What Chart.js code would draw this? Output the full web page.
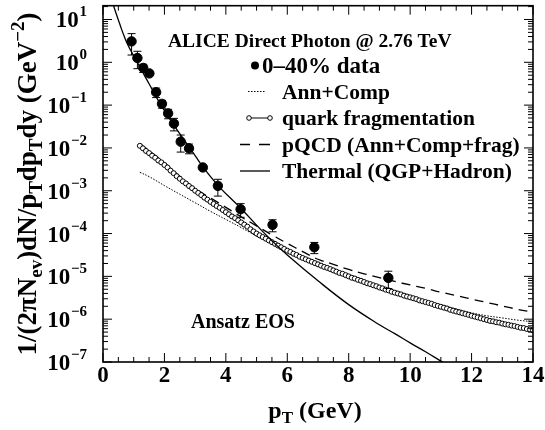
<!DOCTYPE html>
<html>
<head>
<meta charset="utf-8">
<script src="https://cdn.jsdelivr.net/npm/chart.js@4.4.1/dist/chart.umd.min.js"></script>
<style>
  html, body { margin: 0; padding: 0; background: #fff; }
  canvas { display: block; }
</style>
</head>
<body>
<canvas id="c" width="545" height="430"></canvas>
<script>
// ALICE 0-40% direct photons
const dataPt    = [0.93, 1.12, 1.31, 1.51, 1.73, 1.92, 2.12, 2.31, 2.53, 2.80, 3.25, 3.74, 4.48, 5.52, 6.88, 9.29];
const dataYield = [3.08, 1.26, 0.74, 0.55, 0.20, 0.107, 0.064, 0.037, 0.014, 0.0098, 0.0035, 0.0013, 3.7e-4, 1.6e-4, 4.8e-5, 9.2e-6];
const dataErr   = [1.6, 0.55, 0.16, 0.05, 0.05, 0.022, 0.016, 0.012, 0.006, 0.0025, 0.0003, 0.00055, 1.3e-4, 5e-5, 1.4e-5, 4e-6];

// thermal (QGP+hadron)
const thermPt    = [0.3, 0.4, 0.5, 0.6, 0.7, 0.8, 0.9, 1.0, 1.1, 1.25, 1.5, 1.75, 2.0, 2.3, 2.6, 3.0, 3.3, 3.8, 4.5, 5.1, 5.5, 6.0, 7.0, 8.0, 9.0, 9.5, 10.0, 10.5, 11.0, 11.2];
const thermYield = [26.3, 15.8, 9.77, 6.03, 3.89, 2.63, 1.91, 1.41, 1.05, 0.66, 0.316, 0.148, 0.0741, 0.0347, 0.0170, 6.6e-3, 3.24e-3, 1.20e-3, 3.8e-4, 1.32e-4, 6.8e-5, 3.16e-5, 7.9e-6, 2.19e-6, 7.4e-7, 4.6e-7, 2.8e-7, 1.74e-7, 1.05e-7, 8.6e-8];

// quark fragmentation (open circles)
const fragPt = [
  1.2, 1.3, 1.4, 1.5, 1.6, 1.7, 1.8, 1.9, 2.0,
  2.1, 2.2, 2.3, 2.4, 2.5, 2.6, 2.7, 2.8, 2.9, 3.0,
  3.1, 3.2, 3.3, 3.4, 3.5, 3.6, 3.7, 3.8, 3.9, 4.0,
  4.1, 4.2, 4.3, 4.4, 4.5, 4.6, 4.7, 4.8, 4.9, 5.0,
  5.1, 5.2, 5.3, 5.4, 5.5, 5.6, 5.7, 5.8, 5.9, 6.0,
  6.1, 6.2, 6.3, 6.4, 6.5, 6.6, 6.7, 6.8, 6.9, 7.0,
  7.1, 7.2, 7.3, 7.4, 7.5, 7.6, 7.7, 7.8, 7.9, 8.0,
  8.1, 8.2, 8.3, 8.4, 8.5, 8.6, 8.7, 8.8, 8.9, 9.0,
  9.1, 9.2, 9.3, 9.4, 9.5, 9.6, 9.7, 9.8, 9.9, 10.0,
  10.1, 10.2, 10.3, 10.4, 10.5, 10.6, 10.7, 10.8, 10.9, 11.0,
  11.1, 11.2, 11.3, 11.4, 11.5, 11.6, 11.7, 11.8, 11.9, 12.0,
  12.1, 12.2, 12.3, 12.4, 12.5, 12.6, 12.7, 12.8, 12.9, 13.0,
  13.1, 13.2, 13.3, 13.4, 13.5, 13.6, 13.7, 13.8, 13.9, 14.0
];
const fragYield = [
  1.12e-2, 9.8e-3, 8.5e-3, 7.6e-3, 6.6e-3, 5.9e-3, 5.1e-3, 4.6e-3, 4.0e-3,
  3.5e-3, 2.95e-3, 2.57e-3, 2.19e-3, 1.91e-3, 1.66e-3, 1.48e-3, 1.29e-3, 1.15e-3, 1.0e-3,
  8.9e-4, 7.9e-4, 6.9e-4, 6.2e-4, 5.5e-4, 4.9e-4, 4.4e-4, 4.0e-4, 3.55e-4, 3.16e-4,
  2.82e-4, 2.51e-4, 2.29e-4, 2.04e-4, 1.82e-4, 1.62e-4, 1.45e-4, 1.26e-4, 1.12e-4, 1.0e-4,
  9.1e-5, 8.3e-5, 7.6e-5, 6.9e-5, 6.3e-5, 5.75e-5, 5.25e-5, 4.8e-5, 4.37e-5, 3.98e-5,
  3.72e-5, 3.39e-5, 3.16e-5, 2.88e-5, 2.69e-5, 2.51e-5, 2.34e-5, 2.19e-5, 2.04e-5, 1.91e-5,
  1.78e-5, 1.66e-5, 1.58e-5, 1.48e-5, 1.38e-5, 1.29e-5, 1.20e-5, 1.15e-5, 1.07e-5, 1.0e-5,
  9.3e-6, 8.9e-6, 8.3e-6, 7.9e-6, 7.4e-6, 6.9e-6, 6.6e-6, 6.2e-6, 5.9e-6, 5.5e-6,
  5.25e-6, 4.9e-6, 4.7e-6, 4.37e-6, 4.17e-6, 3.98e-6, 3.80e-6, 3.55e-6, 3.39e-6, 3.24e-6,
  3.09e-6, 2.95e-6, 2.75e-6, 2.63e-6, 2.51e-6, 2.40e-6, 2.29e-6, 2.14e-6, 2.04e-6, 1.95e-6,
  1.86e-6, 1.78e-6, 1.66e-6, 1.58e-6, 1.51e-6, 1.45e-6, 1.38e-6, 1.32e-6, 1.26e-6, 1.20e-6,
  1.15e-6, 1.10e-6, 1.05e-6, 1.00e-6, 9.55e-7, 9.12e-7, 8.9e-7, 8.5e-7, 8.3e-7, 7.9e-7,
  7.6e-7, 7.4e-7, 7.1e-7, 6.9e-7, 6.6e-7, 6.3e-7, 6.2e-7, 5.9e-7, 5.75e-7, 5.5e-7
];

// Ann+Comp (dotted) and pQCD total (dashed)
const curvePt   = [1.2, 1.5, 2.0, 2.5, 3.0, 3.5, 4.0, 4.5, 5.0, 5.5, 6.0, 6.5, 7.0, 7.5, 8.0, 8.5, 9.0, 9.5, 10.0, 10.5, 11.0, 11.5, 12.0, 12.5, 13.0, 13.5, 14.0];
const annYield  = [2.7e-3, 2.14e-3, 1.32e-3, 8.3e-4, 5.25e-4, 3.3e-4, 2.14e-4, 1.38e-4, 8.7e-5, 5.75e-5, 3.8e-5, 2.63e-5, 1.86e-5, 1.35e-5, 1.0e-5, 7.4e-6, 5.6e-6, 4.27e-6, 3.39e-6, 2.69e-6, 2.14e-6, 1.74e-6, 1.41e-6, 1.20e-6, 1.07e-6, 9.5e-7, 8.7e-7];
const pqcdYield = [1.26e-2, 8.7e-3, 4.5e-3, 2.19e-3, 1.12e-3, 6.8e-4, 4.1e-4, 2.45e-4, 1.51e-4, 9.3e-5, 5.9e-5, 3.8e-5, 2.51e-5, 1.91e-5, 1.45e-5, 1.15e-5, 9.3e-6, 7.6e-6, 6.3e-6, 5.25e-6, 4.27e-6, 3.55e-6, 2.95e-6, 2.45e-6, 2.04e-6, 1.70e-6, 1.45e-6];

// axes
const xTickLabels = [0, 2, 4, 6, 8, 10, 12, 14];
const yTickPowers = [1, 0, -1, -2, -3, -4, -5, -6, -7];

const serif = '"Liberation Serif", "Times New Roman", serif';
const pts = (xs, ys) => xs.map((v, i) => ({ x: v, y: ys[i] }));

// draw a row of text pieces (sub/superscripts)
function rich(ctx, parts, x, y, align) {
  let w = 0;
  parts.forEach(p => { ctx.font = 'bold ' + p[1] + 'px ' + serif; w += ctx.measureText(p[0]).width; });
  let cx = align === 'center' ? x - w / 2 : align === 'right' ? x - w : x;
  parts.forEach(p => {
    ctx.font = 'bold ' + p[1] + 'px ' + serif;
    ctx.fillText(p[0], cx, y + (p[2] || 0));
    cx += ctx.measureText(p[0]).width;
  });
}

const errorBars = {
  id: 'errorBars',
  afterDatasetsDraw(chart) {
    const { x, y } = chart.scales;
    const ctx = chart.ctx;
    ctx.save();
    ctx.strokeStyle = '#000';
    ctx.lineWidth = 1;
    dataPt.forEach((p, i) => {
      const px = x.getPixelForValue(p);
      const hi = y.getPixelForValue(dataYield[i] + dataErr[i]);
      const lo = y.getPixelForValue(dataYield[i] - dataErr[i]);
      ctx.beginPath();
      ctx.moveTo(px, hi); ctx.lineTo(px, lo);
      ctx.moveTo(px - 4, hi); ctx.lineTo(px + 4, hi);
      ctx.moveTo(px - 4, lo); ctx.lineTo(px + 4, lo);
      ctx.stroke();
    });
    ctx.restore();
  }
};

const frame = {
  id: 'frame',
  afterDraw(chart) {
    const { x, y } = chart.scales;
    const a = chart.chartArea;
    const ctx = chart.ctx;
    ctx.save();
    ctx.strokeStyle = '#000';
    ctx.fillStyle = '#000';
    ctx.lineWidth = 1.6;
    ctx.strokeRect(a.left, a.top, a.right - a.left, a.bottom - a.top);

    // ticks, inward on all four sides
    ctx.lineWidth = 1;
    ctx.beginPath();
    for (let v = 0; v <= 14; v += 0.5) {
      const px = x.getPixelForValue(v);
      const len = v % 2 === 0 ? 9 : 5;
      ctx.moveTo(px, a.bottom); ctx.lineTo(px, a.bottom - len);
      ctx.moveTo(px, a.top); ctx.lineTo(px, a.top + len);
    }
    for (let e = -7; e <= 1; e++) {
      for (let m = 1; m <= 9; m++) {
        const v = m * Math.pow(10, e);
        if (v < y.min || v > y.max) continue;
        const py = y.getPixelForValue(v);
        const len = m === 1 ? 9 : 5;
        ctx.moveTo(a.left, py); ctx.lineTo(a.left + len, py);
        ctx.moveTo(a.right, py); ctx.lineTo(a.right - len, py);
      }
    }
    ctx.stroke();

    // tick labels
    ctx.textBaseline = 'alphabetic';
    ctx.textAlign = 'left';
    xTickLabels.forEach(v => {
      rich(ctx, [[String(v), 23]], x.getPixelForValue(v), a.bottom + 20, 'center');
    });
    yTickPowers.forEach(p => {
      const py = y.getPixelForValue(Math.pow(10, p));
      const ex = p < 0 ? '\u2212' + (-p) : String(p);
      rich(ctx, [['10', 23], [' ', 3], [ex, 15, -11]], 87, py + 8, 'right');
    });

    // axis titles
    rich(ctx, [['p', 24], ['T', 17, 5], [' (GeV)', 24]], 315, 418, 'center');
    ctx.save();
    ctx.translate(36, 184);
    ctx.rotate(-Math.PI / 2);
    rich(ctx, [['1/(2\u03c0N', 27], ['ev', 19, 6], [')dN/p', 27], ['T', 19, 6], ['dp', 27], ['T', 19, 6],
               ['dy (GeV', 27], ['\u22122', 19, -12], [')', 27]], 0, 0, 'center');
    ctx.restore();

    // legend
    rich(ctx, [['ALICE Direct Photon @ 2.76 TeV', 19.5]], 168, 47, 'left');
    const rows = [72.5, 98.5, 125, 151.5, 178];
    ctx.beginPath(); ctx.arc(255, rows[0] - 7, 4, 0, 2 * Math.PI); ctx.fill();
    rich(ctx, [['0\u201340% data', 23]], 262, rows[0], 'left');

    ctx.setLineDash([1.5, 1.5]);
    ctx.beginPath(); ctx.moveTo(248, rows[1] - 7); ctx.lineTo(266, rows[1] - 7); ctx.stroke();
    ctx.setLineDash([]);
    rich(ctx, [['Ann+Comp', 21.5]], 282, rows[1], 'left');

    ctx.beginPath(); ctx.moveTo(249, rows[2] - 7); ctx.lineTo(270, rows[2] - 7); ctx.stroke();
    [249, 270].forEach(cx => {
      ctx.beginPath(); ctx.arc(cx, rows[2] - 7, 2.3, 0, 2 * Math.PI);
      ctx.fillStyle = '#fff'; ctx.fill(); ctx.stroke();
    });
    ctx.fillStyle = '#000';
    rich(ctx, [['quark fragmentation', 21.5]], 282, rows[2], 'left');

    ctx.lineWidth = 1.3;
    ctx.beginPath();
    ctx.moveTo(240, rows[3] - 7); ctx.lineTo(250, rows[3] - 7);
    ctx.moveTo(259, rows[3] - 7); ctx.lineTo(270, rows[3] - 7);
    ctx.stroke();
    rich(ctx, [['pQCD (Ann+Comp+frag)', 21.5]], 282, rows[3], 'left');

    ctx.beginPath(); ctx.moveTo(240, rows[4] - 7); ctx.lineTo(270, rows[4] - 7); ctx.stroke();
    rich(ctx, [['Thermal (QGP+Hadron)', 21.5]], 282, rows[4], 'left');

    rich(ctx, [['Ansatz EOS', 20]], 191, 328, 'left');
    ctx.restore();
  }
};

new Chart(document.getElementById('c'), {
  type: 'scatter',
  data: {
    datasets: [
      {
        label: '0-40% data',
        data: pts(dataPt, dataYield),
        showLine: false,
        pointRadius: 4.7,
        backgroundColor: '#000',
        borderColor: '#000'
      },
      {
        label: 'Thermal (QGP+Hadron)',
        data: pts(thermPt, thermYield),
        showLine: true,
        pointRadius: 0,
        borderColor: '#000',
        borderWidth: 1.3,
        tension: 0.4
      },
      {
        label: 'quark fragmentation',
        data: pts(fragPt, fragYield),
        showLine: true,
        pointRadius: 2.5,
        pointBorderWidth: 1,
        pointBackgroundColor: '#fff',
        pointBorderColor: '#000',
        borderColor: '#000',
        borderWidth: 1
      },
      {
        label: 'pQCD (Ann+Comp+frag)',
        data: pts(curvePt, pqcdYield),
        showLine: true,
        pointRadius: 0,
        borderColor: '#000',
        borderWidth: 1.3,
        borderDash: [9, 6],
        tension: 0.4
      },
      {
        label: 'Ann+Comp',
        data: pts(curvePt, annYield),
        showLine: true,
        pointRadius: 0,
        borderColor: '#000',
        borderWidth: 1,
        borderDash: [1.5, 1.5],
        tension: 0.4
      }
    ]
  },
  options: {
    responsive: false,
    animation: false,
    devicePixelRatio: 1,
    layout: { padding: { top: 4, right: 12, bottom: 0, left: 0 } },
    plugins: { legend: { display: false }, tooltip: { enabled: false } },
    scales: {
      x: {
        type: 'linear', min: 0, max: 14,
        ticks: { display: false }, grid: { display: false }, border: { display: false },
        afterFit(s) { s.height = 68; }
      },
      y: {
        type: 'logarithmic', min: 1e-7, max: 21,
        ticks: { display: false }, grid: { display: false }, border: { display: false },
        afterFit(s) { s.width = 103; }
      }
    }
  },
  plugins: [errorBars, frame]
});
</script>
</body>
</html>
